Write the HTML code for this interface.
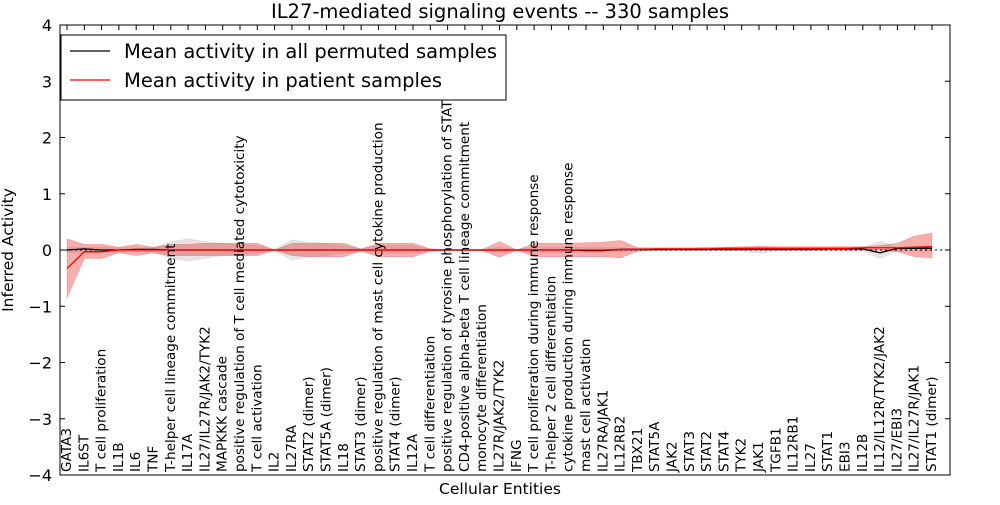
<!DOCTYPE html>
<html><head><meta charset="utf-8"><style>
body{margin:0;background:#fff}
svg text{font-family:"DejaVu Sans","Liberation Sans",sans-serif}
</style></head><body>
<svg id="c" width="1000" height="500" xmlns="http://www.w3.org/2000/svg"></svg>
<script>
const categories=["GATA3","IL6ST","T cell proliferation","IL1B","IL6","TNF","T-helper cell lineage commitment","IL17A","IL27/IL27R/JAK2/TYK2","MAPKKK cascade","positive regulation of T cell mediated cytotoxicity","T cell activation","IL2","IL27RA","STAT2 (dimer)","STAT5A (dimer)","IL18","STAT3 (dimer)","positive regulation of mast cell cytokine production","STAT4 (dimer)","IL12A","T cell differentiation","positive regulation of tyrosine phosphorylation of STAT","CD4-positive alpha-beta T cell lineage commitment","monocyte differentiation","IL27R/JAK2/TYK2","IFNG","T cell proliferation during immune response","T-helper 2 cell differentiation","cytokine production during immune response","mast cell activation","IL27RA/JAK1","IL12RB2","TBX21","STAT5A","JAK2","STAT3","STAT2","STAT4","TYK2","JAK1","TGFB1","IL12RB1","IL27","STAT1","EBI3","IL12B","IL12/IL12R/TYK2/JAK2","IL27/EBI3","IL27/IL27R/JAK1","STAT1 (dimer)"];
const patientMean=[-0.33,-0.03,-0.03,0,0,0,0,0,0,0,0,0,0,0,0,0,0,0,0,0,0,0,0,0,0,0,0,0,0,0,0,0,0.01,0.01,0.02,0.02,0.02,0.02,0.03,0.03,0.03,0.03,0.03,0.03,0.03,0.03,0.04,0.04,0.04,0.05,0.06];
const patientLo=[-0.85,-0.15,-0.15,-0.05,-0.1,-0.05,-0.1,-0.1,-0.1,-0.1,-0.1,-0.1,0,-0.1,-0.12,-0.12,-0.12,-0.02,-0.12,-0.12,-0.12,-0.02,-0.01,-0.01,-0.01,-0.13,0,-0.12,-0.12,-0.12,-0.12,-0.12,-0.14,-0.02,0,0,0,0,0,0,0,0,0,0,0,0,0,0,-0.03,-0.12,-0.14];
const patientHi=[0.2,0.1,0.1,0.05,0.1,0.05,0.1,0.1,0.12,0.12,0.12,0.12,0,0.12,0.12,0.12,0.12,0.02,0.12,0.12,0.12,0.02,0.01,0.01,0.01,0.15,0,0.12,0.12,0.12,0.13,0.14,0.17,0.04,0.04,0.04,0.04,0.05,0.05,0.06,0.06,0.06,0.06,0.06,0.06,0.06,0.06,0.08,0.12,0.25,0.3];
const permMean=[0,0.02,0,0,0.01,0.01,0,0,0,0,0,0,0,0,0,0,0,0,0,0,0,0,0,0,0,0,0,0,0,0,-0.01,-0.01,0.01,0.01,0.01,0.01,0.01,0.01,0.01,0.01,0.01,0.01,0.01,0.01,0.02,0.02,0.02,-0.05,0.03,0.03,0.03];
const permLo=[-0.05,-0.05,-0.05,-0.03,-0.03,-0.03,-0.15,-0.2,-0.15,-0.1,-0.08,-0.05,-0.02,-0.18,-0.12,-0.1,-0.06,-0.02,-0.06,-0.06,-0.06,-0.02,-0.01,-0.01,-0.01,-0.04,-0.01,-0.04,-0.04,-0.04,-0.04,-0.04,-0.03,-0.02,-0.02,-0.02,-0.02,-0.02,-0.02,-0.02,-0.06,-0.02,-0.02,-0.02,-0.02,-0.02,-0.02,-0.15,-0.02,-0.02,-0.02];
const permHi=[0.05,0.05,0.05,0.04,0.04,0.04,0.15,0.2,0.15,0.12,0.1,0.08,0.02,0.18,0.14,0.12,0.08,0.02,0.08,0.08,0.08,0.02,0.01,0.01,0.01,0.05,0.01,0.05,0.05,0.05,0.05,0.05,0.04,0.03,0.03,0.03,0.03,0.03,0.03,0.03,0.08,0.04,0.04,0.04,0.04,0.04,0.04,0.16,0.04,0.04,0.04];
const yTicks=[4,3,2,1,0,-1,-2,-3,-4];

const svg=document.getElementById('c');
const NS='http://www.w3.org/2000/svg';
const L=60,R=950,T=25,B=475;
const x=i=>67+i*(932-67)/(categories.length-1);
const y=v=>T+(4-v)*(B-T)/8;
function el(tag,attrs,parent){const e=document.createElementNS(NS,tag);for(const k in attrs)e.setAttribute(k,attrs[k]);(parent||svg).appendChild(e);return e;}
function band(lo,hi,fill,op,name){
  let d='M'+lo.map((v,i)=>x(i)+','+y(v)).join('L');
  for(let i=hi.length-1;i>=0;i--)d+='L'+x(i)+','+y(hi[i]);
  const p=el('path',{d:d+'Z',fill:fill,'fill-opacity':op,stroke:fill,'stroke-opacity':op,'stroke-width':0.5});
  
  
}
function line(vals,stroke,name,dash){
  const p=el('path',{d:'M'+vals.map((v,i)=>x(i)+','+y(v)).join('L'),fill:'none',stroke:stroke,'stroke-width':1.3});
  if(dash)p.setAttribute('stroke-dasharray',dash);
  
  
}
band(permLo,permHi,'#aaaaaa',0.3,'permuted-band');
band(patientLo,patientHi,'#ee3333',0.4,'patient-band');
const z=el('line',{x1:L,x2:R,y1:y(0),y2:y(0),stroke:'#000','stroke-dasharray':'2,3','stroke-width':1});

line(permMean,'#000','permuted-mean-line');
line(patientMean,'#ff0000','patient-mean-line');
const fr=el('rect',{x:L,y:T,width:R-L,height:B-T,fill:'none',stroke:'#000','stroke-width':1});

yTicks.forEach(v=>{
  el('line',{x1:L,x2:L+5,y1:y(v),y2:y(v),stroke:'#000'});
  el('line',{x1:R-5,x2:R,y1:y(v),y2:y(v),stroke:'#000'});
  const t=el('text',{x:L-8,y:y(v)+6,'text-anchor':'end','font-size':16});
  t.textContent=(v<0?'\u2212'+(-v):v);
  
});
categories.forEach((c,i)=>{
  el('line',{x1:x(i),x2:x(i),y1:T,y2:T+5,stroke:'#000'});
  const t=el('text',{x:0,y:0,transform:`translate(${x(i)+4},${B-3}) rotate(-90)`,'font-size':13.6});
  t.textContent=c;
  
});
let t=el('text',{x:500,y:18,'text-anchor':'middle','font-size':19.5});t.textContent='IL27-mediated signaling events -- 330 samples';

t=el('text',{x:500,y:494,'text-anchor':'middle','font-size':15.5});t.textContent='Cellular Entities';

t=el('text',{x:0,y:0,transform:'translate(13,250) rotate(-90)','text-anchor':'middle','font-size':15.5});t.textContent='Inferred Activity';

const lg=el('g',{});

el('rect',{x:61,y:35,width:445,height:65,fill:'#fff',stroke:'#000'},lg);
el('line',{x1:70,x2:110,y1:51,y2:51,stroke:'#000','stroke-width':1.3},lg);
el('line',{x1:70,x2:110,y1:80,y2:80,stroke:'#f00','stroke-width':1.3},lg);
t=el('text',{x:124,y:58,'font-size':19.5},lg);t.textContent='Mean activity in all permuted samples';

t=el('text',{x:124,y:87,'font-size':19.5},lg);t.textContent='Mean activity in patient samples';

</script>
</body></html>
